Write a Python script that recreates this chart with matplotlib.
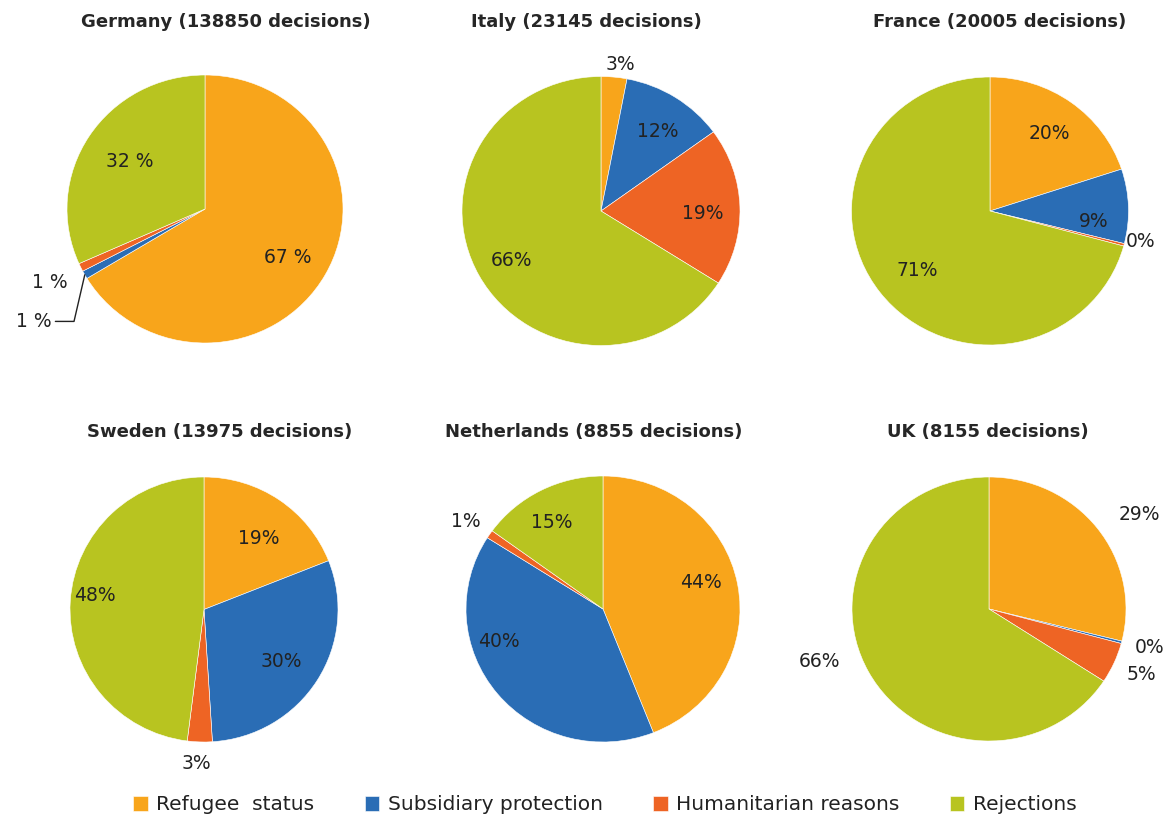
import matplotlib
matplotlib.use("Agg")
import matplotlib.pyplot as plt
import numpy as np

# data
categories = ["Refugee  status", "Subsidiary protection", "Humanitarian reasons", "Rejections"]
colors = ["#F8A51B", "#2A6DB5", "#EE6424", "#B8C420"]

countries = ["Germany", "Italy", "France", "Sweden", "Netherlands", "UK"]
decisions = [138850, 23145, 20005, 13975, 8855, 8155]

germany = [67, 1, 1, 32]
italy = [3, 12, 19, 66]
france = [20, 9, 0.3, 71]
sweden = [19, 30, 3, 48]
netherlands = [44, 40, 1, 15]
uk = [29, 0.3, 5, 66]
shares = [germany, italy, france, sweden, netherlands, uk]

# layout (pixels in a 1170x819 canvas): pie centre x, y, x-radius, y-radius, title x, title y
W, H = 1170, 819
layout = [
    (205, 209, 138, 134, 226, 22),
    (601, 211, 139, 134.5, 586, 22),
    (990, 211, 138.5, 134, 1000, 22),
    (204, 609.5, 134, 132.5, 220, 432),
    (603, 609, 137, 133, 594, 432),
    (989, 609, 137, 132, 988, 432),
]
# label placement per wedge: (distance from centre, angle shift in degrees)
label_pos = [
    [(0.7, -1.5), (1.5, 4.6), (1.25, 0), (0.65, 0)],
    [(1.1, -2), (0.72, -2), (0.73, -3), (0.74, 1)],
    [(0.72, -1), (0.75, -8), (1.11, 2.6), (0.69, 3)],
    [(0.67, -3), (0.7, -2), (1.16, -1), (0.82, -4)],
    [(0.74, 5), (0.8, -22), (1.2, 1), (0.75, 3)],
    [(1.31, -5), (1.21, 0.6), (1.22, 0), (1.3, -10.6)],
]

plt.rcParams["font.family"] = ["DejaVu Sans"]
fig = plt.figure(figsize=(W / 100, H / 100), dpi=100)

wedges_first = None
for i, vals in enumerate(shares):
    cx, cy, rx, ry, tx, ty = layout[i]
    ax = fig.add_axes([(cx - rx) / W, 1 - (cy + ry) / H, 2 * rx / W, 2 * ry / H])
    wedges, _ = ax.pie(vals, colors=colors, startangle=90, counterclock=False,
                       radius=1, wedgeprops=dict(edgecolor="white", linewidth=0.4))
    if wedges_first is None:
        wedges_first = wedges
    ax.set_aspect("auto")
    ax.set_xlim(-1, 1)
    ax.set_ylim(-1, 1)
    ax.axis("off")

    sep = " " if countries[i] == "Germany" else ""
    total = sum(vals)
    start = 90.0
    for j, v in enumerate(vals):
        span = 360.0 * v / total
        mid = start - span / 2
        start -= span
        d, shift = label_pos[i][j]
        a = np.radians(mid + shift)
        lx, ly = d * np.cos(a), d * np.sin(a)
        txt = f"{round(v)}{sep}%"
        if countries[i] == "Germany" and j == 1:
            ax.annotate(txt, xy=(np.cos(np.radians(mid)), np.sin(np.radians(mid))),
                        xytext=(lx, ly), ha="center", va="center", fontsize=13.5,
                        color="#222222",
                        arrowprops=dict(arrowstyle="-", color="#222222", lw=1,
                                        shrinkA=1, shrinkB=0,
                                        connectionstyle="angle,angleA=0,angleB=77,rad=0"))
        else:
            ax.text(lx, ly, txt, ha="center", va="center", fontsize=13.5,
                    color="#222222")

    fig.text(tx / W, 1 - ty / H, f"{countries[i]} ({decisions[i]} decisions)",
             ha="center", va="center", fontsize=13, fontweight="bold",
             color="#262626")

fig.legend(wedges_first, categories, loc="center", bbox_to_anchor=(605 / W, 1 - 805 / H),
           ncol=4, frameon=False, fontsize=14.5, handlelength=0.72, handleheight=0.72,
           handletextpad=0.42, columnspacing=2.5, labelcolor="#222222")

fig.savefig("out.png", dpi=100, facecolor="white")
